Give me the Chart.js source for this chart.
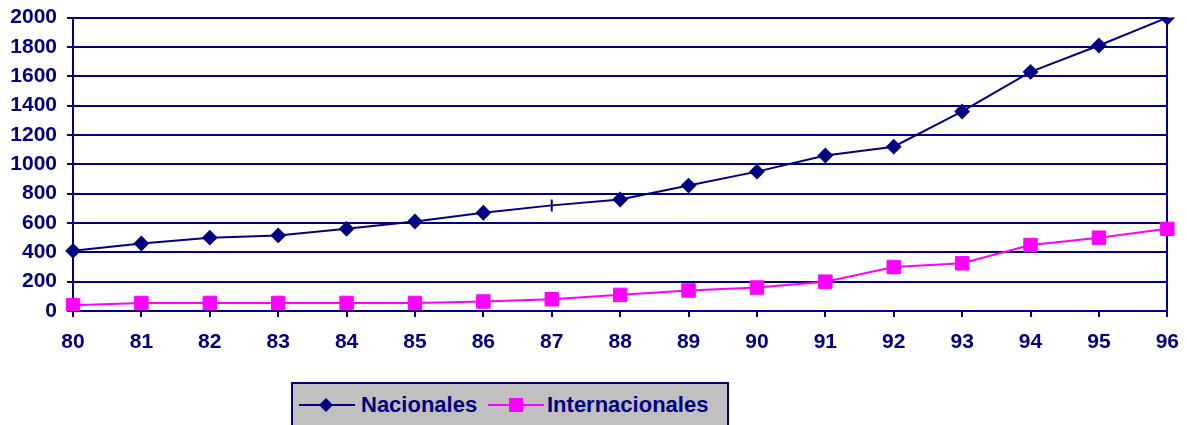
<!DOCTYPE html>
<html>
<head>
<meta charset="utf-8">
<script src="https://cdn.jsdelivr.net/npm/chart.js@4/dist/chart.umd.min.js"></script>
<style>
  html, body { margin: 0; padding: 0; background: #fff; }
  #wrap { position: relative; width: 1187px; height: 425px; overflow: hidden; }
  #c { position: absolute; left: 0; top: -5px; }
  #legend {
    position: absolute; left: 291px; top: 382px; width: 434px; height: 50px;
    background: #C0C0C0; border: 2px solid #000080; box-sizing: content-box;
    font-family: "Liberation Sans", Arial, sans-serif; font-weight: bold; font-size: 22px; color: #000080;
  }
  .item { position: absolute; top: 8px; height: 26px; line-height: 26px; white-space: nowrap; }
  .item svg { position: absolute; top: 3px; }
  .item span { position: absolute; top: 0; }
</style>
</head>
<body>
<div id="wrap">
  <canvas id="c" width="1192" height="375"></canvas>
  <div id="legend"></div>
</div>
<script>
const categories = ["80","81","82","83","84","85","86","87","88","89","90","91","92","93","94","95","96"];
const nacionales = [410, 460, 500, 515, 560, 610, 670, 720, 760, 855, 950, 1060, 1120, 1360, 1630, 1810, 2000];
const internacionales = [40, 55, 55, 55, 55, 55, 65, 80, 110, 140, 160, 200, 300, 325, 450, 500, 560];
const seriesNames = ["Nacionales", "Internacionales"];
const yTicks = { min: 0, max: 2000, step: 200 };

const NAVY = '#000080';
const PINK = '#FF00FF';
const FONT = "'Liberation Sans', Arial, sans-serif";

// point style for each national point (the 87 point shows as a vertical tick)
const nacStyles = categories.map(c => c === "87" ? 'line' : 'rectRot');
const nacRot = categories.map(c => c === "87" ? 90 : 0);
const nacRadius = categories.map(c => c === "87" ? 6 : 6.5);

new Chart(document.getElementById('c'), {
  type: 'line',
  data: {
    labels: categories,
    datasets: [
      {
        label: seriesNames[0], data: nacionales,
        borderColor: NAVY, backgroundColor: NAVY, borderWidth: 2,
        pointStyle: nacStyles, rotation: nacRot, pointRadius: nacRadius,
        pointBorderWidth: 2, pointBackgroundColor: NAVY, pointBorderColor: NAVY,
        tension: 0
      },
      {
        label: seriesNames[1], data: internacionales,
        borderColor: PINK, backgroundColor: PINK, borderWidth: 2,
        pointStyle: 'rect', pointRadius: 9.5, pointBorderWidth: 1,
        pointBackgroundColor: PINK, pointBorderColor: PINK,
        tension: 0
      }
    ]
  },
  options: {
    responsive: false,
    animation: false,
    layout: { padding: { left: 0, right: 14, top: 8, bottom: 0 } },
    plugins: { legend: { display: false }, tooltip: { enabled: false } },
    scales: {
      x: {
        offset: false,
        border: { display: true, color: NAVY, width: 2 },
        grid: {
          drawOnChartArea: true,
          color: ctx => (ctx.index === categories.length - 1 ? NAVY : 'rgba(0,0,0,0)'),
          tickColor: NAVY, tickLength: 6, lineWidth: 2
        },
        ticks: { color: NAVY, font: { family: FONT, size: 21, weight: 'bold' }, padding: 13, maxRotation: 0, autoSkip: false },
        afterFit: s => { s.height = 59; }
      },
      y: {
        min: yTicks.min, max: yTicks.max,
        border: { display: true, color: NAVY, width: 2 },
        grid: { color: NAVY, lineWidth: 2, tickLength: 6, tickColor: NAVY },
        ticks: { stepSize: yTicks.step, color: NAVY, font: { family: FONT, size: 21, weight: 'bold' }, padding: 10,
                 callback: v => String(v) },
        afterFit: s => { s.width = 73; }
      }
    }
  }
});

// legend
const lg = document.getElementById('legend');
lg.innerHTML =
  '<div class="item" style="left:5px">' +
    '<svg width="58" height="20" style="left:0"><line x1="1" y1="10" x2="57" y2="10" stroke="' + NAVY + '" stroke-width="2"/>' +
    '<polygon points="28,3 35,10 28,17 21,10" fill="' + NAVY + '"/></svg>' +
    '<span style="left:63px">' + seriesNames[0] + '</span></div>' +
  '<div class="item" style="left:194px">' +
    '<svg width="58" height="20" style="left:0"><line x1="1" y1="10" x2="57" y2="10" stroke="' + PINK + '" stroke-width="2"/>' +
    '<rect x="22" y="3" width="14" height="14" fill="' + PINK + '"/></svg>' +
    '<span style="left:60px">' + seriesNames[1] + '</span></div>';
</script>
</body>
</html>
